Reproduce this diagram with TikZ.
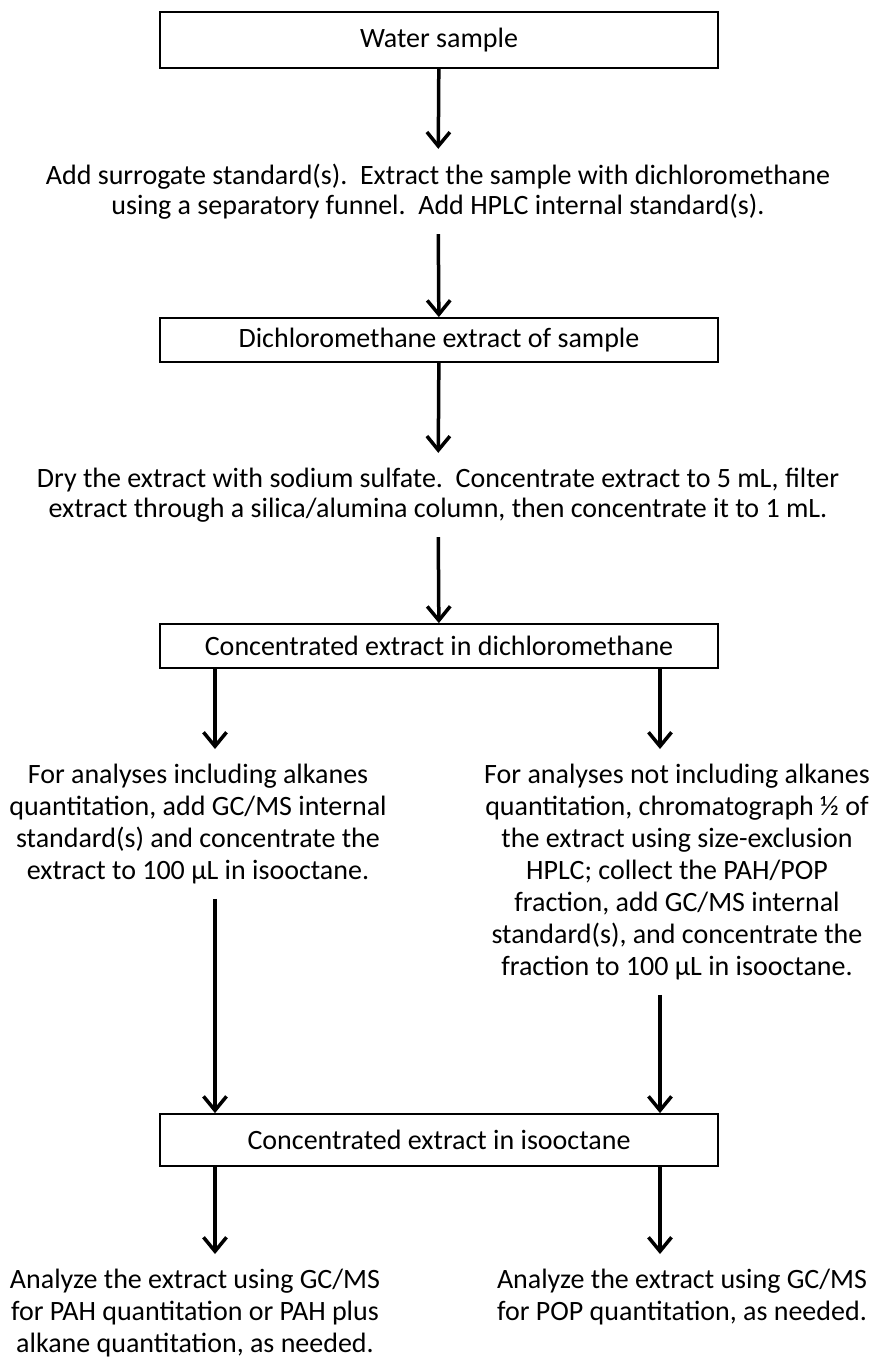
\documentclass[tikz,border=0pt]{standalone}
\usepackage{fontspec}
\setmainfont{Carlito}
\usetikzlibrary{arrows.meta}
\begin{document}
\begin{tikzpicture}[x=1pt,y=-1pt,
    box/.style={draw,line width=1.8pt,minimum width=558pt,minimum height=44pt,inner sep=0pt,
      font=\fontsize{28}{30}\selectfont},
    txt/.style={align=center,inner sep=0pt,outer sep=15pt,font=\fontsize{28}{30}\selectfont},
    txtb/.style={txt,font=\fontsize{28}{32}\selectfont},
    arr/.style={line width=3.5pt,-{Straight Barb[length=14pt,width=23pt]}}]
  \useasboundingbox (0,0) rectangle (876,1364);
  \coordinate (l) at (215,0);
  \coordinate (r) at (660,0);
  % top column
  \node[box,minimum height=56pt] (water) at (439,40) {Water sample};
  \node[txt] (extr) at (438,191.5) {Add surrogate standard(s).\ \ Extract the sample with dichloromethane\\
    using a separatory funnel.\ \ Add HPLC internal standard(s).};
  \node[box] (dcm) at (439,340) {Dichloromethane extract of sample};
  \node[txt] (dry) at (438,495) {Dry the extract with sodium sulfate.\ \ Concentrate extract to 5 mL, filter\\
    extract through a silica/alumina column, then concentrate it to 1 mL.};
  \node[box] (conc) at (439,646) {Concentrated extract in dichloromethane};
  % two branches
  \node[txtb] (withalk) at (198,824) {For analyses including alkanes\\quantitation, add GC/MS internal\\
    standard(s) and concentrate the\\extract to 100 µL in isooctane.};
  \node[txtb] (noalk) at (677,872) {For analyses not including alkanes\\quantitation, chromatograph ½ of\\
    the extract using size-exclusion\\HPLC; collect the PAH/POP\\fraction, add GC/MS internal\\
    standard(s), and concentrate the\\fraction to 100 µL in isooctane.};
  \node[box,minimum height=52pt] (iso) at (439,1140) {Concentrated extract in isooctane};
  \node[txtb] (pah) at (195,1313) {Analyze the extract using GC/MS\\for PAH quantitation or PAH plus\\
    alkane quantitation, as needed.};
  \node[txtb] (pop) at (682,1297) {Analyze the extract using GC/MS\\for POP quantitation, as needed.};
  % arrows
  \draw[arr] (water) -- (extr);
  \draw[arr] (extr) -- (dcm);
  \draw[arr] (dcm) -- (dry);
  \draw[arr] (dry) -- (conc);
  \draw[arr] (conc.south -| l) -- (withalk.north -| l);
  \draw[arr] (conc.south -| r) -- (noalk.north -| r);
  \draw[arr] (withalk.south -| l) -- (iso.north -| l);
  \draw[arr] (noalk.south -| r) -- (iso.north -| r);
  \draw[arr] (iso.south -| l) -- (pah.north -| l);
  \draw[arr] (iso.south -| r) -- (pop.north -| r);
\end{tikzpicture}
\end{document}
